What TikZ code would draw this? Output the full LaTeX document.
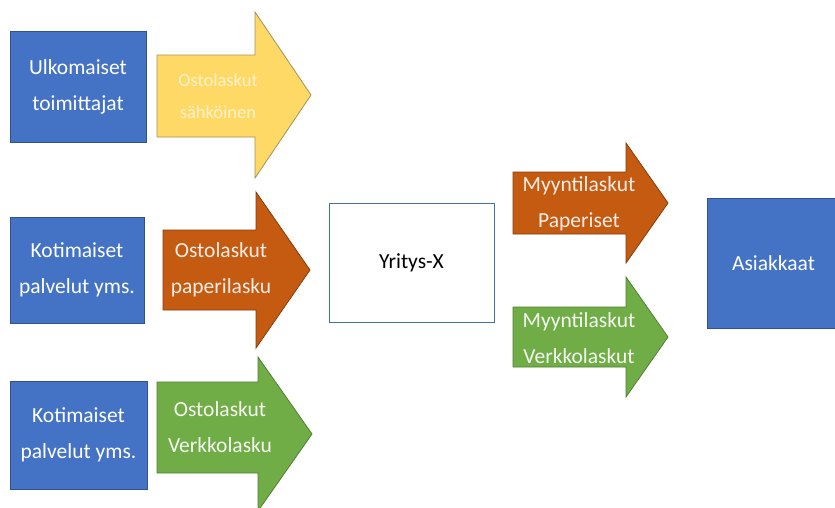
\documentclass[tikz,border=0pt]{standalone}
\usepackage{fontspec}
\setmainfont{Carlito}
\usetikzlibrary{arrows}
\definecolor{mblue}{RGB}{68,114,196}
\definecolor{mblueline}{RGB}{47,82,143}
\definecolor{mframe}{RGB}{65,113,156}
\definecolor{myellow}{RGB}{255,217,102}
\definecolor{myellowline}{RGB}{165,145,85}
\definecolor{myellowtext}{RGB}{255,242,204}
\definecolor{morange}{RGB}{197,90,17}
\definecolor{morangeline}{RGB}{132,60,12}
\definecolor{mgreen}{RGB}{112,173,71}
\definecolor{mgreenline}{RGB}{80,126,50}

\begin{document}
\begin{tikzpicture}[y=1pt, x=1pt, yscale=-1, inner sep=0pt, outer sep=0pt,
  party/.style={draw=mblueline, fill=mblue, line width=0.8pt, text=white,
    align=center, font=\fontsize{21.5}{36}\selectfont},
  blockarrow/.style={line width=0.8pt, line join=miter},
  arrowtext/.style={align=center, text=white, font=\fontsize{21.5}{36}\selectfont}]

\useasboundingbox[fill=white] (0,0) rectangle (835,507);

% suppliers
\node[party, minimum width=136, minimum height=111] (ulkomaiset) at (78.0000,86.5000)
  {Ulkomaiset\\toimittajat};
\node[party, minimum width=134, minimum height=106] (kotimaiset1) at (77.0000,270.0000)
  {Kotimaiset\\palvelut yms.};
\node[party, minimum width=137, minimum height=108] (kotimaiset2) at (78.5000,435.0000)
  {Kotimaiset\\palvelut yms.};

% company and customers
\node[draw=mframe, fill=white, line width=0.8pt, minimum width=165, minimum height=119,
  font=\fontsize{21.5}{36}\selectfont] (yritys) at (411.5000,262.5000) {Yritys-X};
\node[party, minimum width=133, minimum height=130] (asiakkaat) at (773.5000,263.0000)
  {Asiakkaat};

% purchase invoice, electronic
\draw[blockarrow, draw=myellowline, fill=myellow] (157.0000,55.0000) -- (255.0000,55.0000)
  -- (255.0000,12.0000) -- (311.0000,95.0000) -- (255.0000,178.0000)
  -- (255.0000,137.0000) -- (157.0000,137.0000) -- cycle;

% purchase invoice, paper
\draw[blockarrow, draw=morangeline, fill=morange] (163.0000,230.0000) -- (256.0000,230.0000)
  -- (256.0000,192.0000) -- (310.0000,270.0000) -- (256.0000,348.0000)
  -- (256.0000,310.0000) -- (163.0000,310.0000) -- cycle;

% purchase invoice, e-invoice
\draw[blockarrow, draw=mgreenline, fill=mgreen] (157.0000,382.0000) -- (258.0000,382.0000)
  -- (258.0000,357.0000) -- (312.0000,434.0000) -- (258.0000,511.0000)
  -- (258.0000,473.0000) -- (157.0000,473.0000) -- cycle;

% sales invoice, paper
\draw[blockarrow, draw=morangeline, fill=morange] (513.0000,172.0000) -- (626.0000,172.0000)
  -- (626.0000,143.0000) -- (668.0000,203.0000) -- (626.0000,263.0000)
  -- (626.0000,234.0000) -- (513.0000,234.0000) -- cycle;

% sales invoice, e-invoice
\draw[blockarrow, draw=mgreenline, fill=mgreen] (513.0000,307.0000) -- (626.0000,307.0000)
  -- (626.0000,277.0000) -- (668.0000,337.0000) -- (626.0000,397.0000)
  -- (626.0000,367.0000) -- (513.0000,367.0000) -- cycle;

\node[arrowtext, text=myellowtext, font=\fontsize{18.5}{32}\selectfont] (ostosahko) at (218.0000,96.0000)
  {Ostolaskut\\sähköinen};
\node[arrowtext, text=white!90!morange] (ostopaperi) at (221.0000,270.0000) {Ostolaskut\\paperilasku};
\node[arrowtext, text=white!92!mgreen] (ostoverkko) at (220.0000,427.0000) {Ostolaskut\\Verkkolasku};
\node[arrowtext, text=white!90!morange] (myyntipaperi) at (579.0000,204.0000) {Myyntilaskut\\Paperiset};
\node[arrowtext, text=white!92!mgreen] (myyntiverkko) at (579.0000,338.0000) {Myyntilaskut\\Verkkolaskut};

\end{tikzpicture}
\end{document}
